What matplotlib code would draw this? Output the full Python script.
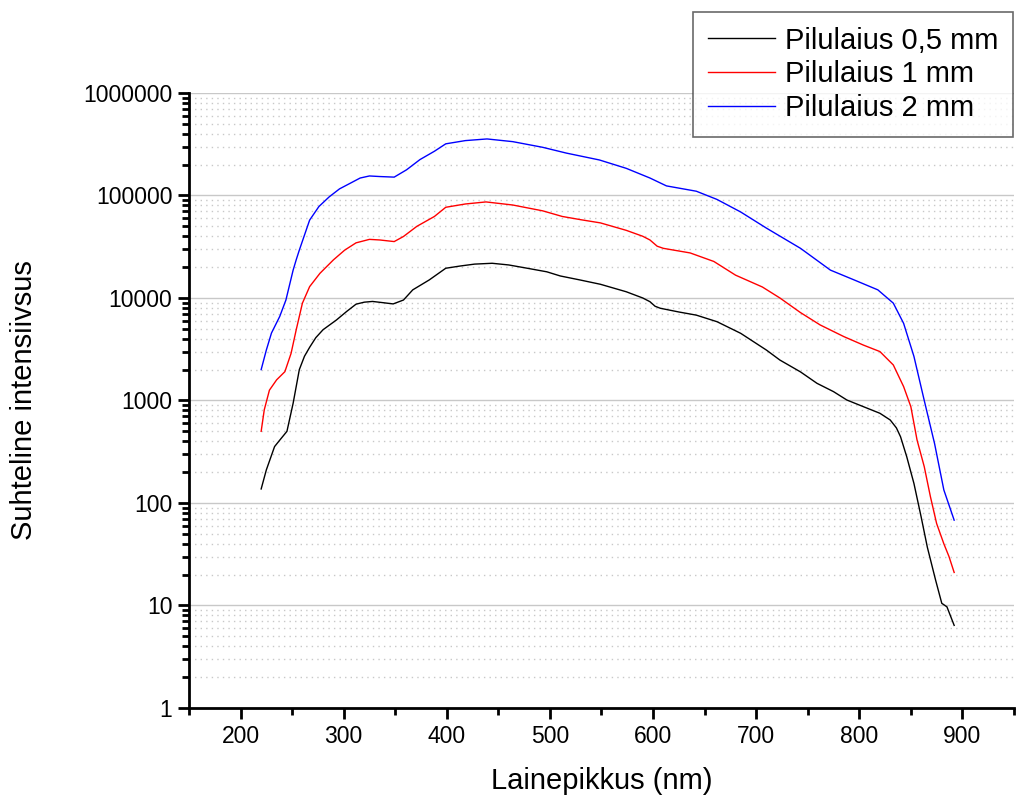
import numpy as np
import matplotlib.pyplot as plt
from matplotlib.ticker import LogLocator, FixedLocator, NullFormatter

plt.rcParams['font.family'] = ['Liberation Sans', 'DejaVu Sans']

# 0.5 mm
x_05 = [220, 225, 233, 238, 245, 251, 257, 262, 267, 273, 280, 293, 303, 312, 320, 328,
        338, 348, 358, 367, 383, 399, 413, 427, 444, 460, 478, 497, 510, 529, 549, 574,
        590, 597, 602, 607, 625, 642, 662, 685, 710, 723, 743, 759, 775, 788, 804, 820,
        830, 836, 840, 846, 853, 860, 866, 874, 880, 885, 892]
y_05 = [137, 210, 355, 410, 500, 940, 2000, 2700, 3300, 4100, 4900, 6100, 7400, 8700, 9100, 9250,
        9000, 8750, 9550, 12000, 15000, 19500, 20500, 21400, 21800, 21000, 19500, 18000, 16400, 15000, 13600, 11500,
        10000, 9200, 8300, 7940, 7300, 6800, 5870, 4520, 3100, 2480, 1900, 1470, 1220, 1010, 870, 750,
        645, 540, 443, 283, 155, 73, 37, 17.7, 10.5, 9.7, 6.4]

# 1 mm
x_1 = [220, 223, 228, 235, 243, 249, 254, 260, 267, 277, 290, 301, 312, 325, 335, 349,
       358, 371, 388, 399, 418, 438, 464, 493, 512, 530, 549, 574, 590, 597, 604, 610,
       636, 659, 680, 706, 723, 743, 762, 785, 804, 820, 833, 843, 850, 856, 863, 869,
       875, 882, 887, 892]
y_1 = [500, 810, 1260, 1590, 1910, 2880, 4900, 8900, 12900, 17400, 23500, 29300, 34500, 37300, 36800, 35500,
       39800, 50000, 62400, 76700, 82600, 86500, 80700, 70800, 62400, 58000, 54000, 45700, 40000, 36800, 32000, 30500,
       27500, 22700, 16700, 12800, 10000, 7200, 5460, 4200, 3470, 3000, 2220, 1365, 870, 412, 226, 115,
       63, 40, 30, 21]

# 2 mm
x_2 = [220, 225, 230, 238, 244, 251, 254, 257, 267, 276, 286, 296, 306, 316, 325, 335,
       349, 361, 374, 388, 399, 418, 439, 464, 493, 516, 548, 574, 597, 613, 642, 662,
       685, 710, 743, 772, 795, 818, 833, 843, 853, 863, 873, 882, 892]
y_2 = [2000, 3100, 4550, 6600, 9550, 18700, 23600, 29300, 57500, 78000, 97000, 116000, 131000, 148000, 155000, 153000,
       151000, 178000, 224000, 270000, 319000, 343000, 356000, 335000, 295000, 259000, 222000, 184000, 148000, 124000, 110000, 91500,
       69000, 48000, 30500, 18700, 15000, 12000, 8900, 5650, 2690, 1000, 380, 134, 68]

labels = ['Pilulaius 0,5 mm', 'Pilulaius 1 mm', 'Pilulaius 2 mm']
colors = ['#000000', '#ff0000', '#0000ff']

fig = plt.figure(figsize=(10.16, 7.98), dpi=100)
ax = fig.add_axes([0.186, 0.1128, 0.812, 0.7707])

for xs, ys, lab, c in zip([x_05, x_1, x_2], [y_05, y_1, y_2], labels, colors):
    ax.plot(xs, ys, color=c, lw=1.0, label=lab)

ax.set_yscale('log')
ax.set_xlim(150, 950)
ax.set_ylim(1, 1e6)

ax.xaxis.set_major_locator(FixedLocator([200, 300, 400, 500, 600, 700, 800, 900]))
ax.xaxis.set_minor_locator(FixedLocator([150, 250, 350, 450, 550, 650, 750, 850, 950]))
ax.yaxis.set_minor_locator(LogLocator(base=10, subs=np.arange(2, 10), numticks=20))
ax.yaxis.set_minor_formatter(NullFormatter())
ax.set_yticks([1, 10, 100, 1000, 10000, 100000, 1000000])
ax.set_yticklabels(['1', '10', '100', '1000', '10000', '100000', '1000000'])

ax.grid(True, which='major', axis='y', color='#c8c8c8', lw=1.0, ls='-')
ax.grid(True, which='minor', axis='y', color='#c8c8c8', lw=1.0, ls=(0, (1, 3)))
ax.set_axisbelow(True)

for s in ['top', 'right']:
    ax.spines[s].set_visible(False)
for s in ['left', 'bottom']:
    ax.spines[s].set_linewidth(2)

ax.tick_params(which='major', direction='out', length=8, width=2, labelsize=16.5, pad=4)
ax.tick_params(which='minor', direction='out', length=5, width=2)

ax.set_xlabel('Lainepikkus (nm)', fontsize=21)
ax.set_ylabel('Suhteline intensiivsus', fontsize=21)
ax.xaxis.set_label_coords(0.5, -0.096)
ax.yaxis.set_label_coords(-0.183, 0.5)

leg = fig.legend(loc='upper left', bbox_to_anchor=(693 / 1016, 1 - 12 / 798), fontsize=21,
                 frameon=True, fancybox=False, handlelength=2.3, handletextpad=0.35,
                 labelspacing=0.2, borderpad=0.5, borderaxespad=0)
leg.get_frame().set_edgecolor('#444444')
leg.get_frame().set_linewidth(1.2)

fig.savefig('out.png', dpi=100)
